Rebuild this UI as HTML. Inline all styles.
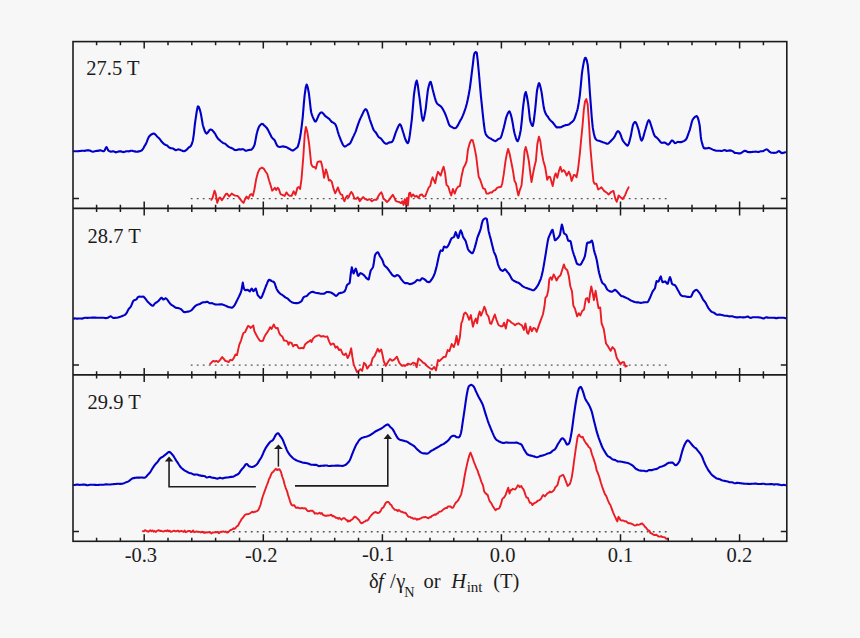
<!DOCTYPE html>
<html><head><meta charset="utf-8"><style>
html,body{margin:0;padding:0;background:#f7f7f7;}
body{width:860px;height:638px;overflow:hidden;}
svg{display:block;}
text{font-family:"Liberation Serif","DejaVu Serif",serif;font-size:20.5px;fill:#1c1c1c;}
</style></head><body>
<svg width="860" height="638" viewBox="0 0 860 638">
<rect width="860" height="638" fill="#f7f7f7"/>
<line x1="190.8" y1="198.6" x2="668" y2="198.6" stroke="#555" stroke-width="1.4" stroke-dasharray="1.8 4.2"/>
<line x1="190.8" y1="365.1" x2="668" y2="365.1" stroke="#555" stroke-width="1.4" stroke-dasharray="1.8 4.2"/>
<line x1="190.8" y1="531.8" x2="668" y2="531.8" stroke="#555" stroke-width="1.4" stroke-dasharray="1.8 4.2"/>
<path d="M73.8 151.2L74.8 151.3L75.8 151.3L76.8 151.2L77.8 151.2L78.8 151.1L79.8 151.0L80.0 151.0L80.8 150.9L81.8 150.7L82.8 150.7L83.8 150.8L84.8 150.9L85.8 150.6L86.0 150.5L86.8 150.4L87.8 150.3L88.8 150.4L89.8 150.5L90.8 151.0L91.8 151.4L92.0 151.5L92.8 151.7L93.8 151.5L94.8 151.2L95.8 151.0L96.8 150.9L97.8 150.9L98.0 150.9L98.8 150.6L99.8 150.4L100.8 150.4L101.8 150.8L102.8 151.1L103.8 151.2L104.0 151.2L104.8 150.2L105.8 147.9L106.4 147.1L106.8 147.4L107.8 149.7L108.5 150.7L108.8 150.9L109.8 151.3L110.8 151.7L111.8 151.5L112.8 151.4L113.8 151.4L114.8 151.9L115.0 152.0L115.8 152.4L116.8 152.1L117.8 151.7L118.8 151.4L119.8 151.4L120.8 151.4L121.8 151.6L122.0 151.7L122.8 151.9L123.8 152.1L124.8 151.8L125.8 151.4L126.8 151.2L127.8 151.3L128.8 151.4L129.8 151.1L130.0 151.1L130.8 150.8L131.8 150.7L132.8 150.9L133.8 151.2L134.8 151.4L135.8 151.6L136.0 151.7L136.8 151.8L137.8 151.6L138.8 151.4L139.8 151.2L140.8 150.8L141.5 150.5L141.8 150.4L142.8 149.2L143.8 147.5L144.8 145.6L145.3 144.9L145.8 144.1L146.8 141.8L147.8 139.1L148.8 137.0L149.0 136.7L149.8 135.8L150.8 134.9L151.8 134.2L152.8 133.8L153.5 133.6L153.8 133.6L154.8 133.9L155.8 134.9L156.8 136.1L157.8 137.2L158.8 138.0L159.8 139.1L160.8 140.5L161.8 141.8L162.8 142.9L163.8 143.8L164.8 144.5L165.8 145.0L166.6 145.2L166.8 145.3L167.8 146.1L168.8 147.2L169.1 147.4L169.8 147.8L170.8 148.2L171.8 148.3L172.8 148.5L173.8 149.0L174.8 149.6L175.4 150.1L175.8 150.3L176.8 149.9L177.8 149.5L178.8 149.4L179.8 149.7L180.0 149.7L180.8 150.1L181.8 150.5L182.8 151.0L183.8 151.2L184.2 151.1L184.8 151.0L185.8 150.4L186.8 149.6L187.8 148.5L188.8 147.3L189.2 147.2L189.8 146.9L190.8 145.9L191.8 144.0L192.8 140.8L192.9 140.4L193.8 134.3L194.8 125.0L195.4 120.4L195.8 117.8L196.8 111.0L197.8 106.5L198.0 106.3L198.8 106.8L199.8 109.6L200.5 112.2L200.8 113.4L201.8 119.1L202.8 124.7L203.0 125.5L203.8 128.2L204.8 131.1L205.8 133.0L206.7 133.6L206.8 133.6L207.8 132.6L208.8 131.1L209.8 129.7L210.5 129.5L210.8 129.5L211.8 129.9L212.8 130.8L213.8 132.0L214.3 132.6L214.8 133.3L215.8 135.0L216.8 136.9L217.8 138.4L218.0 138.7L218.8 139.4L219.8 140.3L220.8 141.2L221.8 142.0L222.8 142.8L223.0 142.9L223.8 143.2L224.8 143.5L225.8 144.3L226.8 145.2L227.8 146.1L228.0 146.3L228.8 146.8L229.8 147.4L230.8 147.9L231.8 148.1L232.8 148.6L233.8 149.4L234.8 150.0L235.6 150.0L235.8 150.1L236.8 150.0L237.8 149.6L238.8 149.4L239.8 149.3L240.6 149.5L240.8 149.6L241.8 149.2L242.8 149.1L243.8 149.5L244.8 150.3L245.6 150.7L245.8 150.8L246.8 150.6L247.8 150.3L248.8 150.0L249.8 149.9L250.8 149.8L251.1 149.8L251.8 149.4L252.8 148.2L253.8 146.4L254.4 145.2L254.8 143.9L255.8 138.6L256.8 133.3L256.9 133.0L257.8 129.9L258.8 127.2L259.4 126.1L259.8 125.6L260.8 124.5L261.8 123.8L262.2 123.9L262.8 124.1L263.8 125.1L264.8 126.0L265.7 126.8L265.8 126.9L266.8 127.9L267.8 129.6L268.8 131.5L269.8 133.5L270.7 135.3L270.8 135.5L271.8 137.4L272.8 138.5L273.8 139.4L274.5 140.0L274.8 140.5L275.8 142.8L276.8 145.1L277.8 146.4L278.2 146.6L278.8 146.8L279.8 147.0L280.8 146.8L281.8 146.6L282.0 146.5L282.8 146.4L283.8 146.6L284.8 146.8L285.0 146.9L285.8 146.9L286.8 147.3L287.8 148.0L288.8 148.5L289.8 149.0L290.8 149.7L291.3 150.0L291.8 150.2L292.8 150.6L293.8 150.0L294.8 149.3L295.8 148.5L296.8 147.7L297.5 147.0L297.8 146.6L298.8 143.4L299.8 138.7L300.0 137.7L300.8 132.9L301.8 125.3L302.6 118.4L302.8 116.4L303.8 104.1L304.6 95.6L304.8 94.1L305.8 87.0L306.6 84.6L306.8 84.7L307.8 87.7L308.8 92.7L309.8 100.8L310.8 110.0L311.3 112.8L311.8 114.4L312.8 117.1L313.8 119.3L314.8 121.2L315.1 121.5L315.8 121.5L316.8 119.7L317.6 117.8L317.8 117.4L318.8 115.0L319.8 113.5L320.8 112.5L321.4 112.5L321.8 112.4L322.8 113.1L323.8 114.2L324.8 115.6L325.1 115.9L325.8 116.4L326.8 117.2L327.8 117.9L328.8 118.6L329.8 119.6L330.2 120.1L330.8 120.8L331.8 122.0L332.8 122.4L333.8 123.0L334.8 123.8L335.2 124.2L335.8 125.2L336.8 127.9L337.8 131.6L338.8 134.8L338.9 135.1L339.8 137.4L340.8 140.0L341.8 142.3L342.8 144.5L343.8 146.0L344.5 146.5L344.8 146.6L345.8 146.2L346.8 145.5L347.8 144.8L348.8 144.3L349.8 143.6L350.2 143.1L350.8 142.1L351.8 140.0L352.8 137.6L353.8 135.6L354.8 133.4L355.2 132.6L355.8 131.1L356.8 128.2L357.8 125.2L358.8 122.3L359.8 119.7L360.3 118.6L360.8 117.6L361.8 115.5L362.8 113.4L363.8 111.3L364.8 109.7L365.8 109.1L366.8 110.2L367.8 112.8L368.8 116.1L369.8 119.5L370.3 120.9L370.8 122.4L371.8 125.2L372.8 128.0L373.8 130.2L374.1 130.6L374.8 131.4L375.8 132.4L376.8 134.1L377.8 135.8L378.8 137.2L379.1 137.4L379.8 137.8L380.8 138.4L381.8 139.6L382.8 141.0L383.8 142.2L384.8 143.1L385.4 143.5L385.8 143.7L386.8 143.7L387.8 143.2L388.8 142.6L389.8 142.4L390.8 142.2L391.6 142.1L391.8 142.0L392.8 140.8L393.8 138.4L394.8 135.4L395.8 132.3L396.6 130.3L396.8 129.9L397.8 127.5L398.8 125.4L399.8 124.3L399.9 124.2L400.8 125.2L401.8 127.9L402.8 131.2L402.9 131.5L403.8 134.3L404.8 137.6L405.8 140.3L406.8 142.4L407.8 143.2L407.9 143.2L408.8 141.0L409.8 135.2L410.8 127.6L411.7 120.4L411.8 119.6L412.8 108.4L413.8 96.4L414.2 93.0L414.8 88.9L415.8 82.9L416.7 80.6L416.8 80.7L417.8 85.2L418.8 92.8L419.2 95.6L419.8 99.9L420.8 108.5L421.8 116.4L422.8 120.6L423.0 120.7L423.8 119.0L424.8 114.1L425.5 110.0L425.8 108.1L426.8 99.1L427.8 90.7L428.0 89.6L428.8 86.0L429.8 82.6L430.5 81.8L430.8 82.1L431.8 85.5L432.8 90.0L433.0 90.7L433.8 93.7L434.8 97.5L435.8 100.9L436.8 103.1L437.8 104.2L438.8 105.0L439.8 105.6L440.8 106.3L441.8 107.5L442.8 109.1L443.8 110.9L444.8 113.0L445.6 114.8L445.8 115.3L446.8 118.0L447.8 121.0L448.8 123.9L449.8 125.8L450.6 126.5L450.8 126.5L451.8 126.9L452.8 127.6L453.8 128.1L454.8 128.2L455.6 128.0L455.8 127.9L456.8 126.9L457.8 125.4L458.8 123.5L459.8 121.5L460.6 120.0L460.8 119.7L461.8 117.9L462.8 115.6L463.8 113.1L464.8 110.3L465.6 108.0L465.8 107.3L466.8 103.7L467.8 99.3L468.8 94.3L469.4 90.9L469.8 88.5L470.8 81.0L471.8 72.8L472.7 65.7L472.8 64.9L473.8 56.1L474.3 53.7L474.8 52.9L475.5 52.1L475.8 52.0L476.8 52.9L477.8 61.4L478.1 64.7L478.8 72.0L479.8 83.5L480.8 94.8L481.3 99.8L481.8 104.6L482.8 114.3L483.8 123.5L484.8 130.7L485.7 134.1L485.8 134.3L486.8 135.7L487.8 136.8L488.8 137.6L489.8 138.1L490.7 138.5L490.8 138.6L491.8 139.3L492.8 139.9L493.8 140.5L494.8 140.9L495.7 141.1L495.8 141.0L496.8 140.3L497.8 139.4L498.8 138.8L499.8 138.5L500.0 138.4L500.8 137.6L501.8 134.8L502.8 131.2L503.8 127.6L504.8 123.4L505.8 118.9L506.3 117.2L506.8 115.8L507.8 113.3L508.8 111.7L509.3 111.4L509.8 111.8L510.8 114.5L511.8 118.6L512.0 119.5L512.8 123.7L513.8 130.1L514.6 133.6L514.8 134.2L515.8 137.6L516.8 140.4L517.6 141.3L517.8 141.2L518.8 138.8L519.8 134.7L520.6 130.8L520.8 129.7L521.8 120.9L522.8 109.7L523.3 105.2L523.8 101.3L524.8 94.5L525.8 92.0L526.8 95.7L527.8 101.5L528.1 103.3L528.8 109.2L529.8 118.5L530.1 120.1L530.8 122.6L531.8 125.1L532.6 126.0L532.8 125.9L533.8 121.0L534.8 112.7L535.1 110.2L535.8 103.1L536.8 92.3L537.1 90.3L537.8 86.7L538.8 83.4L539.1 83.2L539.8 84.4L540.8 88.5L541.4 91.4L541.8 93.6L542.8 100.9L543.8 107.6L543.9 108.0L544.8 111.5L545.8 113.9L546.8 115.5L547.7 116.4L547.8 116.6L548.8 118.3L549.8 119.6L550.8 120.7L551.4 121.2L551.8 121.6L552.8 122.5L553.8 123.8L554.8 125.2L555.2 125.8L555.8 126.4L556.8 127.4L557.7 127.4L557.8 127.3L558.8 127.3L559.8 127.4L560.8 127.3L561.5 126.9L561.8 126.8L562.8 126.2L563.8 125.8L564.8 125.5L565.2 125.3L565.8 125.1L566.8 125.0L567.8 124.9L568.8 124.5L569.0 124.4L569.8 123.8L570.8 122.9L571.8 122.2L572.8 121.3L573.8 120.1L574.0 119.7L574.8 117.9L575.8 114.9L576.8 111.8L577.3 110.1L577.8 108.0L578.8 102.4L579.8 95.6L580.8 85.7L581.8 74.7L582.3 70.7L582.8 67.7L583.8 62.1L584.8 58.3L585.3 57.7L585.8 57.9L586.8 60.5L587.8 65.3L588.8 76.3L589.8 91.5L590.1 95.5L590.8 104.7L591.8 118.0L592.8 127.9L593.8 133.2L594.8 137.2L595.8 139.3L596.6 140.0L596.8 140.1L597.8 140.5L598.8 140.8L599.8 141.1L600.8 141.4L601.6 141.7L601.8 141.8L602.8 142.2L603.8 142.5L604.8 142.9L605.8 143.3L606.8 143.7L607.8 143.7L607.9 143.6L608.8 143.1L609.8 142.0L610.8 141.1L611.8 140.0L612.8 139.0L612.9 138.9L613.8 137.9L614.8 136.2L615.8 134.1L616.8 132.2L617.8 131.1L617.9 131.1L618.8 131.5L619.8 132.9L620.8 135.2L621.8 138.1L622.8 140.5L622.9 140.7L623.8 141.9L624.8 143.1L625.8 144.2L626.8 145.3L627.4 145.7L627.8 145.6L628.8 143.6L629.8 140.0L630.5 137.3L630.8 136.1L631.8 130.6L632.8 125.6L633.0 124.9L633.8 123.1L634.8 122.0L635.5 122.1L635.8 122.5L636.8 124.5L637.8 127.4L638.0 127.9L638.8 130.7L639.8 135.3L640.8 139.3L641.7 140.6L641.8 140.6L642.8 138.8L643.8 135.3L644.8 131.5L645.5 129.2L645.8 128.3L646.8 124.7L647.8 121.5L648.8 120.1L649.8 121.4L650.8 124.5L651.8 127.6L652.8 130.7L653.8 134.0L654.8 136.1L655.0 136.4L655.8 137.0L656.8 137.6L657.8 138.7L658.8 139.9L659.3 140.6L659.8 141.1L660.8 142.4L661.8 142.9L662.8 142.8L663.8 142.6L664.8 142.6L665.0 142.6L665.8 143.1L666.8 143.9L667.8 144.5L668.1 144.6L668.8 144.3L669.8 143.3L670.8 141.6L671.8 140.5L671.9 140.4L672.8 140.7L673.8 141.8L674.8 143.1L675.8 143.0L676.0 142.9L676.8 142.4L677.8 141.9L678.8 142.0L679.8 142.1L680.6 142.1L680.8 142.1L681.8 141.9L682.8 141.6L683.8 141.1L684.8 140.5L685.6 139.9L685.8 139.8L686.8 138.1L687.8 135.3L688.8 132.5L689.4 130.9L689.8 129.8L690.8 126.1L691.8 122.0L692.7 119.6L692.8 119.5L693.8 118.1L694.8 117.0L695.8 116.4L696.4 116.0L696.8 116.0L697.8 117.6L698.8 121.1L699.5 124.5L699.8 126.5L700.8 136.7L701.2 139.4L701.8 142.0L702.8 145.6L703.8 148.0L704.5 148.4L704.8 148.4L705.8 148.4L706.8 148.2L707.8 148.1L708.8 147.9L709.5 148.1L709.8 148.2L710.8 148.6L711.8 149.1L712.8 149.6L713.8 150.0L714.8 150.4L715.0 150.4L715.8 150.6L716.8 150.8L717.8 150.7L718.8 150.7L719.8 150.7L720.8 150.9L721.8 151.0L722.8 150.6L723.8 150.2L724.8 150.1L725.2 150.2L725.8 150.5L726.8 151.0L727.8 150.8L728.8 150.6L729.8 150.4L730.8 150.6L731.8 150.8L732.0 150.8L732.8 151.3L733.8 152.1L734.8 152.9L735.8 153.0L736.8 153.0L737.8 153.2L738.8 153.4L739.8 153.4L740.8 153.2L741.8 152.6L742.8 151.8L743.8 151.2L744.8 150.8L745.0 150.8L745.8 151.0L746.8 151.5L747.8 152.0L748.8 152.1L749.8 152.1L750.8 152.1L751.8 152.0L752.8 151.9L753.8 151.8L754.8 151.7L755.0 151.7L755.8 151.6L756.8 151.8L757.8 152.0L758.8 151.9L759.8 151.6L760.8 151.2L761.8 151.3L762.0 151.3L762.8 151.2L763.8 150.7L764.8 150.1L765.8 149.6L766.6 149.4L766.8 149.4L767.8 149.9L768.8 150.9L769.8 151.9L770.0 152.1L770.8 152.4L771.8 152.7L772.8 152.8L773.8 152.9L774.8 152.8L775.8 152.8L776.8 152.4L777.8 151.7L778.8 151.0L779.8 151.6L780.8 152.5L781.8 153.1L782.8 152.9L783.8 152.7L784.8 152.4L785.4 152.3" fill="none" stroke="#0000c8" stroke-width="2.1" stroke-linejoin="round" stroke-linecap="round"/>
<path d="M73.8 318.6L74.8 318.4L75.8 318.5L76.8 318.6L77.8 318.6L78.8 318.5L79.8 318.5L80.8 318.5L81.8 318.6L82.8 318.4L83.8 318.1L84.8 317.7L85.0 317.7L85.8 317.8L86.8 317.9L87.8 317.9L88.8 317.8L89.8 317.8L90.8 317.7L91.8 317.6L92.8 317.6L93.8 317.6L94.8 317.6L95.1 317.6L95.8 317.6L96.8 317.7L97.8 317.7L98.8 317.8L99.8 317.8L100.8 317.8L101.8 317.7L102.8 317.7L103.8 317.8L104.8 318.0L105.8 318.1L106.8 318.0L107.0 318.0L107.8 317.8L108.8 317.2L109.8 316.6L110.0 316.6L110.8 316.3L111.8 317.0L112.8 317.7L113.8 318.0L114.8 317.9L115.8 317.8L116.7 317.7L116.8 317.7L117.8 317.5L118.8 317.2L119.8 316.9L120.8 316.6L121.6 316.3L121.8 316.2L122.8 315.8L123.8 315.4L124.8 314.9L125.8 314.1L126.8 312.7L127.8 310.6L128.3 309.7L128.8 308.9L129.8 307.8L130.8 306.6L131.8 304.4L132.8 301.8L133.3 301.0L133.8 300.4L134.8 300.0L135.8 299.7L136.8 298.9L137.8 297.3L138.3 296.9L138.8 296.7L139.8 296.5L140.8 296.7L141.8 296.7L142.8 296.6L143.3 296.6L143.8 296.8L144.8 298.0L145.3 298.6L145.8 299.2L146.8 300.6L147.8 301.8L147.9 301.9L148.8 302.8L149.8 303.7L150.8 304.6L151.8 305.4L152.8 305.7L153.3 305.5L153.8 305.0L154.8 303.5L155.8 302.7L156.8 302.2L157.8 301.5L158.6 300.7L158.8 300.5L159.8 299.3L160.8 298.1L161.6 297.7L161.8 297.8L162.8 299.1L163.2 299.5L163.8 299.4L164.8 298.7L165.7 298.3L165.8 298.3L166.8 299.0L167.8 300.4L168.2 300.9L168.8 301.8L169.8 303.2L170.8 304.4L171.6 305.0L171.8 305.1L172.8 305.6L173.8 306.3L174.8 307.1L174.9 307.2L175.8 307.8L176.8 307.9L177.8 308.0L178.2 308.0L178.8 308.2L179.8 308.6L180.8 309.0L181.5 309.6L181.8 309.9L182.8 311.0L183.8 312.0L184.8 312.1L184.9 312.1L185.8 311.9L186.8 311.7L187.8 311.6L188.2 311.6L188.8 311.5L189.8 311.1L190.8 310.6L191.5 310.2L191.8 309.9L192.8 308.8L193.8 307.5L194.8 306.5L194.9 306.4L195.8 305.7L196.8 305.0L197.8 304.6L198.2 304.5L198.8 304.4L199.8 304.0L200.8 303.4L201.5 302.9L201.8 302.7L202.8 302.4L203.8 302.3L204.0 302.3L204.8 302.3L205.8 302.1L206.8 301.8L207.3 301.8L207.8 302.0L208.8 302.7L209.8 303.3L210.8 303.2L211.8 303.1L212.8 303.4L213.2 303.6L213.8 303.9L214.8 304.4L215.8 304.5L216.5 304.5L216.8 304.5L217.8 304.5L218.8 304.5L219.8 304.4L220.8 304.4L221.8 304.4L222.8 304.5L223.1 304.7L223.8 304.9L224.8 305.4L225.8 305.8L226.5 306.1L226.8 306.3L227.8 306.8L228.8 307.1L229.0 307.2L229.8 307.3L230.8 307.5L231.5 307.7L231.8 307.7L232.8 307.2L233.8 306.2L234.0 306.0L234.8 304.8L235.8 302.9L236.5 301.5L236.8 300.9L237.8 298.9L238.8 296.9L239.0 296.5L239.8 294.8L240.8 292.5L241.4 290.7L241.8 288.4L242.8 282.6L243.8 288.2L243.9 288.5L244.8 289.8L245.6 290.2L245.8 290.2L246.8 289.9L247.8 289.7L248.8 290.7L249.8 291.4L250.8 289.7L251.7 288.6L251.8 288.6L252.8 290.5L253.3 291.1L253.8 291.0L254.8 289.6L255.8 288.6L256.8 292.0L257.5 294.6L257.8 295.1L258.8 296.4L259.8 297.5L260.8 298.1L261.8 296.9L262.8 294.3L263.3 293.0L263.8 291.8L264.8 289.2L265.8 286.5L266.6 284.5L266.8 284.1L267.8 281.6L268.8 279.9L269.1 279.8L269.8 280.0L270.8 280.5L271.6 281.0L271.8 281.1L272.8 281.5L273.8 282.0L274.1 282.3L274.8 283.5L275.8 286.7L276.6 288.9L276.8 289.3L277.8 291.0L278.8 292.3L279.8 293.3L280.0 293.5L280.8 294.1L281.8 294.7L282.8 295.3L283.3 295.7L283.8 296.1L284.8 297.0L285.8 297.6L286.6 298.0L286.8 298.1L287.8 298.7L288.8 299.7L289.8 300.7L289.9 300.8L290.8 301.5L291.8 302.2L292.8 302.6L293.3 302.8L293.8 302.9L294.8 303.0L295.8 303.1L296.8 303.1L297.4 303.1L297.8 303.1L298.8 302.8L299.8 302.3L300.8 301.7L301.6 301.0L301.8 300.8L302.8 298.6L303.6 297.2L303.8 297.1L304.8 296.6L305.8 296.3L306.6 296.0L306.8 295.9L307.8 294.9L308.8 293.8L309.1 293.5L309.8 293.0L310.8 292.3L311.8 292.0L312.4 291.9L312.8 291.9L313.8 292.1L314.8 292.5L315.8 292.8L316.6 293.0L316.8 293.0L317.8 293.1L318.8 293.2L319.8 293.5L320.7 293.7L320.8 293.7L321.8 293.8L322.8 293.8L323.8 293.8L324.8 293.3L324.9 293.2L325.8 292.6L326.8 292.0L327.8 292.0L328.8 292.1L329.8 292.2L329.9 292.2L330.8 292.4L331.8 293.0L332.8 293.6L333.2 293.8L333.8 294.2L334.8 295.1L335.8 295.8L336.2 295.9L336.8 295.6L337.8 294.5L338.8 293.4L339.0 293.3L339.8 293.1L340.8 292.9L341.8 292.8L342.3 292.6L342.8 292.4L343.8 291.9L344.8 291.1L345.8 288.8L346.8 285.5L347.3 284.7L347.8 284.3L348.8 283.7L349.5 283.1L349.8 282.1L350.8 273.3L351.8 267.2L352.8 271.2L353.5 273.5L353.8 273.2L354.8 270.4L355.7 268.6L355.8 268.7L356.8 271.6L357.8 275.4L358.2 275.8L358.8 275.4L359.8 273.8L360.6 273.1L360.8 273.2L361.8 273.6L362.8 274.3L363.8 275.1L364.0 275.2L364.8 276.1L365.8 277.5L366.5 278.2L366.8 278.4L367.8 279.3L368.5 279.5L368.8 279.2L369.8 274.4L370.6 270.9L370.8 270.4L371.8 269.0L372.8 267.5L373.1 266.8L373.8 263.0L374.8 256.1L375.1 255.1L375.8 253.8L376.8 252.6L377.8 252.2L378.8 253.7L379.8 256.0L380.8 257.5L381.8 259.0L382.3 259.9L382.8 261.1L383.8 264.1L384.4 265.4L384.8 265.9L385.8 266.7L386.8 267.6L387.3 268.1L387.8 268.8L388.8 270.2L389.8 271.6L390.6 272.6L390.8 272.9L391.8 274.4L392.5 275.2L392.8 275.4L393.8 276.1L394.8 276.4L395.0 276.4L395.8 275.9L396.8 275.0L397.0 275.0L397.8 275.2L398.8 275.8L399.2 276.2L399.8 276.9L400.8 278.6L401.6 279.7L401.8 279.9L402.8 281.1L403.8 282.2L404.8 283.0L405.0 283.1L405.8 283.1L406.8 283.0L407.8 283.2L408.3 283.5L408.8 283.7L409.8 284.1L410.8 283.9L411.6 283.7L411.8 283.7L412.8 283.3L413.8 282.8L414.6 282.4L414.8 282.3L415.8 281.3L416.8 280.2L417.5 279.9L417.8 280.0L418.8 280.2L419.8 280.5L420.0 280.5L420.8 279.7L421.8 278.4L421.9 278.4L422.8 278.4L423.8 278.9L424.8 279.5L424.9 279.6L425.8 280.4L426.8 281.5L427.4 281.8L427.8 281.9L428.8 282.1L429.1 282.1L429.8 281.8L430.8 280.6L431.6 279.4L431.8 279.2L432.8 277.6L433.8 275.7L434.1 275.0L434.8 273.1L435.8 269.6L436.6 266.6L436.8 265.8L437.8 261.0L438.8 256.3L439.1 255.1L439.8 252.4L440.7 250.4L440.8 250.4L441.8 250.8L442.4 251.0L442.8 250.4L443.8 247.0L444.1 246.6L444.8 246.8L445.8 247.4L446.6 247.5L446.8 247.4L447.8 246.3L448.8 244.4L449.1 243.8L449.8 242.3L450.8 239.7L451.6 238.3L451.8 238.1L452.8 237.6L453.8 237.1L454.1 236.8L454.8 234.7L455.7 232.2L455.8 232.3L456.8 234.8L457.8 237.7L458.2 238.0L458.8 236.8L459.8 232.6L460.7 230.4L460.8 230.4L461.8 232.6L462.8 236.0L463.2 237.1L463.8 238.1L464.8 239.6L465.7 241.2L465.8 241.5L466.8 245.0L467.8 248.6L468.2 249.5L468.8 250.5L469.8 251.6L469.9 251.7L470.8 252.4L471.8 253.1L472.4 253.2L472.8 252.9L473.8 250.6L474.8 247.5L474.9 247.1L475.8 243.9L476.8 239.9L477.4 237.6L477.8 236.5L478.8 234.0L479.8 231.5L480.7 228.8L480.8 228.5L481.8 223.7L482.8 220.4L483.8 219.3L484.8 218.5L485.8 218.4L486.8 218.9L487.8 225.0L488.5 230.4L488.8 231.8L489.8 235.7L490.7 238.9L490.8 239.3L491.8 243.4L492.3 245.4L492.8 247.4L493.8 251.5L494.0 252.1L494.8 253.8L495.7 255.7L495.8 256.0L496.8 259.6L497.8 263.6L498.2 264.8L498.8 266.4L499.8 268.7L500.6 269.8L500.8 269.9L501.8 270.6L502.8 270.9L503.8 270.2L504.8 269.2L505.8 269.9L506.8 271.2L507.3 271.9L507.8 272.4L508.8 273.6L509.8 275.1L510.8 277.1L511.8 278.9L512.3 279.6L512.8 280.0L513.8 280.7L514.8 281.2L515.6 281.6L515.8 281.7L516.8 282.2L517.8 282.5L518.8 283.0L519.0 283.1L519.8 283.7L520.8 284.6L521.8 285.6L522.8 286.3L523.1 286.5L523.8 286.9L524.8 287.4L525.8 287.8L526.8 288.1L527.3 288.3L527.8 288.5L528.8 288.9L529.8 289.1L530.0 289.2L530.8 289.4L531.8 289.9L532.8 290.2L533.3 290.3L533.8 290.2L534.8 289.4L535.8 288.3L536.8 286.9L537.5 285.9L537.8 285.4L538.8 283.5L539.8 281.2L540.8 278.8L541.8 275.3L542.8 270.7L543.3 268.1L543.8 265.4L544.8 259.3L545.8 253.3L546.8 246.9L547.8 240.9L548.3 238.7L548.8 237.2L549.8 234.9L550.3 233.8L550.8 232.7L551.8 230.4L552.5 229.8L552.8 230.3L553.8 235.3L554.8 240.0L555.0 240.2L555.8 239.9L556.8 239.0L557.5 238.3L557.8 238.0L558.8 236.8L559.8 235.1L560.0 234.7L560.8 230.1L561.8 224.6L561.9 224.6L562.8 227.6L563.8 232.7L564.1 233.4L564.8 233.9L565.8 234.4L566.3 234.9L566.8 236.1L567.8 239.8L568.3 240.7L568.8 240.9L569.8 240.9L570.3 241.0L570.8 242.0L571.8 247.0L572.4 249.8L572.8 251.3L573.8 254.5L574.8 257.3L574.9 257.5L575.8 260.4L576.8 263.4L577.4 264.2L577.8 264.3L578.8 264.6L579.8 264.7L580.2 264.7L580.8 264.4L581.8 262.7L582.4 261.5L582.8 260.8L583.8 258.9L584.8 256.4L584.9 256.1L585.8 251.1L586.8 244.4L587.4 242.7L587.8 242.6L588.8 242.6L589.8 242.4L589.9 242.4L590.8 241.5L591.8 240.6L591.9 240.6L592.8 243.4L593.8 249.2L594.1 250.6L594.8 253.1L595.8 256.3L596.6 259.4L596.8 260.3L597.8 266.0L598.8 271.6L599.0 272.5L599.8 275.4L600.8 279.0L601.8 281.8L602.4 282.9L602.8 283.3L603.8 284.1L604.8 284.8L604.9 285.0L605.8 286.7L606.8 288.9L607.4 289.7L607.8 290.0L608.8 290.7L609.8 291.3L610.8 291.6L611.5 291.7L611.8 291.7L612.8 291.3L613.8 290.5L614.8 289.9L614.9 289.8L615.8 290.2L616.8 291.2L617.8 292.4L618.2 292.7L618.8 293.3L619.8 294.5L620.8 295.6L621.5 296.1L621.8 296.2L622.8 296.3L623.8 296.7L624.8 297.2L625.7 297.6L625.8 297.6L626.8 298.1L627.8 298.5L628.8 299.2L629.8 299.8L630.8 300.5L631.8 300.9L632.8 301.3L633.8 301.7L634.0 301.7L634.8 302.0L635.8 302.3L636.8 302.4L637.8 302.4L638.8 302.4L639.0 302.5L639.8 302.8L640.8 302.9L641.8 302.7L642.8 302.5L643.1 302.4L643.8 302.4L644.8 302.3L645.8 302.2L646.8 302.2L647.5 302.1L647.8 302.0L648.8 300.3L649.8 298.1L650.0 297.7L650.8 295.9L651.8 293.4L652.5 291.8L652.8 291.2L653.8 289.9L654.8 288.5L655.0 288.2L655.8 284.2L656.6 281.0L656.8 281.1L657.8 281.6L658.3 281.7L658.8 281.1L659.8 278.3L660.8 276.4L661.8 280.0L662.5 282.2L662.8 282.2L663.8 281.8L664.8 281.5L665.0 281.4L665.8 282.0L666.8 283.3L667.5 283.8L667.8 283.6L668.8 280.3L669.8 277.3L670.0 277.2L670.8 279.2L671.8 283.3L672.0 283.7L672.8 284.4L673.8 284.7L674.8 285.1L675.0 285.2L675.8 286.3L676.8 288.0L677.8 289.9L678.3 290.8L678.8 291.7L679.8 293.6L680.8 295.1L681.6 295.7L681.8 295.8L682.8 296.1L683.8 296.2L684.8 296.3L684.9 296.3L685.8 296.5L686.8 296.7L687.8 296.9L688.3 296.9L688.8 297.0L689.8 297.0L690.8 296.8L691.8 295.3L692.8 292.9L693.3 292.1L693.8 291.6L694.8 290.6L695.8 290.0L696.6 289.9L696.8 290.0L697.8 290.8L698.8 292.1L699.8 293.3L699.9 293.5L700.8 295.0L701.8 297.0L702.8 299.0L703.2 299.7L703.8 300.5L704.8 301.7L705.7 302.9L705.8 303.1L706.8 305.1L707.8 307.1L708.2 307.8L708.8 308.6L709.8 309.9L710.8 311.1L711.6 311.8L711.8 311.9L712.8 312.3L713.8 312.6L714.8 313.3L714.9 313.4L715.8 314.1L716.8 314.7L717.8 314.7L718.2 314.7L718.8 314.6L719.8 314.6L720.8 314.8L721.8 315.0L722.8 315.2L723.2 315.3L723.8 315.5L724.8 315.7L725.8 315.7L726.8 315.7L727.8 316.0L728.2 316.1L728.8 316.2L729.8 316.4L730.8 316.3L731.8 316.2L732.8 316.4L733.8 316.8L734.8 317.1L734.9 317.1L735.8 317.3L736.8 317.4L737.8 317.4L738.8 317.2L739.8 317.1L740.8 317.2L741.8 317.3L742.8 317.4L743.8 317.4L744.8 317.3L745.8 317.1L746.8 316.8L747.8 316.5L748.8 317.1L749.8 317.7L750.8 317.9L751.8 317.6L752.8 317.2L753.8 317.2L754.8 317.2L755.8 317.2L756.8 317.2L757.8 317.3L758.8 317.4L759.8 317.5L760.8 317.6L761.8 318.0L762.8 318.4L763.8 318.5L764.8 317.9L765.8 317.4L766.8 317.4L767.8 317.6L768.8 317.8L769.8 317.8L770.8 317.8L771.8 317.8L772.8 317.8L773.8 317.8L774.8 317.9L775.8 318.1L776.8 318.1L777.8 317.9L778.8 317.8L779.8 317.7L780.8 317.7L781.8 317.7L782.8 317.8L783.8 317.8L784.8 318.0L785.4 318.2" fill="none" stroke="#0000c8" stroke-width="2.1" stroke-linejoin="round" stroke-linecap="round"/>
<path d="M73.8 485.0L74.8 485.0L75.8 484.7L76.8 484.5L77.8 484.6L78.8 484.8L79.8 485.0L80.8 484.8L81.8 484.7L82.8 484.6L83.8 484.6L84.8 484.6L85.8 484.9L86.8 485.1L87.8 485.2L88.8 485.0L89.8 484.8L90.8 484.7L91.8 484.7L92.8 484.7L93.8 484.8L94.8 484.9L95.0 484.9L95.8 484.9L96.8 485.0L97.8 485.0L98.8 484.9L99.8 484.8L100.8 484.7L101.8 484.8L102.8 484.8L103.8 484.7L104.8 484.5L105.8 484.4L106.8 484.4L107.8 484.5L108.8 484.5L109.8 484.5L110.0 484.5L110.8 484.5L111.8 484.3L112.8 484.2L113.8 484.1L114.8 484.0L115.8 484.0L116.8 483.9L117.8 483.8L118.8 483.8L119.8 483.9L120.5 483.9L120.8 483.9L121.8 483.8L122.8 483.6L123.8 483.3L124.8 482.9L125.8 482.4L126.8 482.0L127.8 481.6L127.9 481.6L128.8 481.1L129.8 480.4L130.8 479.5L131.8 478.7L132.8 478.3L133.7 478.1L133.8 478.1L134.8 477.9L135.8 477.8L136.8 477.6L137.8 477.6L138.7 477.6L138.8 477.6L139.8 477.6L140.8 477.5L141.8 477.5L142.8 477.6L143.8 477.7L144.5 477.8L144.8 477.7L145.8 477.1L146.8 476.0L147.8 474.9L148.8 473.8L149.5 473.1L149.8 472.8L150.8 471.2L151.8 469.5L152.8 467.8L153.8 466.3L154.5 465.3L154.8 464.9L155.8 463.8L156.8 462.7L157.8 461.6L158.7 460.2L158.8 460.1L159.8 458.7L160.8 457.8L161.8 457.2L162.8 456.8L163.7 456.0L163.8 455.9L164.8 455.1L165.8 454.4L166.5 453.8L166.8 453.6L167.8 452.6L168.8 452.0L169.2 451.9L169.8 452.1L170.8 452.9L171.8 454.0L172.8 455.2L173.8 456.5L174.8 458.2L175.8 459.9L176.8 461.5L177.0 461.7L177.8 462.9L178.8 464.5L179.8 466.0L180.8 467.3L181.2 467.7L181.8 468.3L182.8 469.1L183.8 469.9L184.8 470.6L185.8 471.1L186.8 471.7L187.8 472.3L188.8 472.8L189.8 473.1L190.8 473.3L191.8 473.6L192.8 474.1L193.8 474.6L194.8 474.6L195.8 474.5L196.1 474.5L196.8 474.5L197.8 474.8L198.8 475.2L199.8 475.4L200.8 475.6L201.8 475.9L202.8 475.9L203.8 476.0L204.8 476.2L205.8 476.9L206.1 477.1L206.8 477.5L207.8 477.3L208.8 477.0L209.8 476.8L210.8 477.2L211.8 477.6L212.8 477.8L213.8 477.9L214.8 478.0L215.8 478.3L216.1 478.4L216.8 478.6L217.8 478.6L218.8 478.2L219.8 477.8L220.1 477.7L220.8 478.0L221.8 478.3L222.8 478.4L223.8 478.1L224.8 477.8L225.8 477.6L226.8 477.5L227.0 477.5L227.8 477.5L228.8 477.3L229.8 477.1L230.8 476.9L231.8 476.9L232.8 476.8L233.1 476.8L233.8 476.4L234.8 475.9L235.8 475.2L236.8 474.8L237.8 474.3L238.0 474.2L238.8 473.5L239.8 472.2L240.8 470.7L241.8 469.3L242.8 468.3L242.9 468.2L243.8 467.1L244.8 465.6L245.8 464.2L246.8 464.1L247.0 464.1L247.8 464.8L248.8 466.1L249.4 466.4L249.8 466.5L250.8 466.8L251.8 467.0L252.7 466.9L252.8 466.9L253.8 466.5L254.8 466.0L255.8 465.2L256.7 464.5L256.8 464.4L257.8 463.1L258.8 461.4L259.8 459.8L260.8 458.2L261.8 456.4L262.8 454.2L263.8 451.8L264.8 449.7L265.7 448.1L265.8 447.9L266.8 446.3L267.8 444.8L268.8 443.5L269.8 442.3L270.6 441.5L270.8 441.4L271.8 440.8L272.8 440.1L273.0 439.9L273.8 438.7L274.8 436.6L275.7 435.1L275.8 434.9L276.8 433.8L277.8 433.2L278.2 433.3L278.8 433.8L279.8 435.5L280.7 436.6L280.8 436.7L281.8 438.1L282.8 439.9L283.2 440.8L283.8 442.3L284.8 445.0L285.0 445.4L285.8 447.5L286.8 449.9L287.5 451.4L287.8 451.9L288.8 453.4L289.8 454.8L290.8 456.0L291.3 456.5L291.8 457.0L292.8 458.0L293.8 458.8L294.8 459.4L295.8 460.0L296.3 460.2L296.8 460.5L297.8 460.9L298.8 461.2L299.8 461.6L300.8 461.9L301.8 462.3L302.6 462.5L302.8 462.6L303.8 462.8L304.8 462.9L305.8 463.0L306.8 463.2L307.8 463.4L308.8 463.7L309.8 464.2L310.1 464.3L310.8 464.7L311.8 464.8L312.8 464.8L313.8 464.9L314.8 464.9L315.8 464.8L316.8 465.1L317.6 465.5L317.8 465.6L318.8 466.1L319.8 466.0L320.8 465.9L321.8 465.8L322.8 465.7L323.8 465.6L324.8 465.6L325.1 465.5L325.8 465.5L326.8 465.5L327.8 465.8L328.8 466.0L329.8 466.0L330.8 465.9L331.8 465.7L332.7 465.7L332.8 465.7L333.8 465.7L334.8 465.7L335.8 465.6L336.8 465.5L337.8 465.6L338.8 465.6L339.8 465.7L340.2 465.8L340.8 465.8L341.8 466.0L342.8 465.9L343.8 465.6L344.8 465.2L345.2 465.1L345.8 464.8L346.8 463.9L347.8 462.8L348.8 461.7L349.0 461.5L349.8 460.2L350.8 457.9L351.8 455.1L352.7 452.8L352.8 452.6L353.8 450.2L354.8 447.8L355.8 445.6L356.5 444.3L356.8 443.8L357.8 442.3L358.8 440.7L359.8 439.5L360.3 439.0L360.8 438.6L361.8 438.0L362.8 437.6L363.8 437.2L364.0 437.2L364.8 437.0L365.8 436.8L366.8 436.5L367.8 436.1L368.8 435.7L369.8 435.2L370.8 434.7L371.6 434.2L371.8 434.0L372.8 433.4L373.8 432.7L374.8 431.9L375.3 431.5L375.8 431.2L376.8 430.7L377.8 430.2L378.8 429.8L379.1 429.6L379.8 429.3L380.8 428.8L381.8 428.2L382.8 427.5L383.8 426.7L384.8 425.9L385.4 425.5L385.8 425.2L386.8 424.7L387.8 424.4L388.8 425.1L389.8 426.4L390.4 427.1L390.8 427.5L391.8 428.3L392.8 429.4L393.8 431.1L394.8 433.0L395.3 433.9L395.8 434.8L396.8 436.7L397.8 438.2L398.8 439.1L399.8 439.7L400.8 440.0L401.8 440.3L402.8 440.6L402.9 440.6L403.8 440.8L404.8 441.1L405.8 441.3L406.8 441.6L407.8 442.1L407.9 442.2L408.8 442.8L409.8 443.5L410.8 444.1L411.8 444.7L412.8 445.3L413.0 445.4L413.8 445.9L414.8 446.8L415.8 447.9L416.7 448.8L416.8 448.9L417.8 449.9L418.8 450.7L419.8 451.6L420.8 452.3L421.7 452.8L421.8 452.9L422.8 453.3L423.8 453.4L424.8 453.4L425.8 453.5L426.0 453.6L426.8 453.6L427.8 453.5L428.8 452.8L429.8 452.0L430.8 451.1L431.8 450.5L432.7 450.1L432.8 450.1L433.8 449.5L434.8 448.9L435.8 448.3L436.8 447.8L437.8 447.2L438.8 446.6L439.3 446.3L439.8 446.0L440.8 445.3L441.8 444.8L442.8 444.4L443.8 443.8L444.3 443.5L444.8 443.2L445.8 442.4L446.8 441.6L447.8 440.7L448.5 440.1L448.8 439.8L449.8 438.4L450.8 437.0L451.8 436.2L452.8 435.9L453.8 435.7L454.3 435.7L454.8 435.9L455.8 436.7L456.8 437.2L457.8 437.3L458.8 437.4L458.9 437.4L459.8 436.3L460.8 433.6L461.0 433.0L461.8 428.5L462.6 422.8L462.8 421.5L463.8 414.9L464.6 409.5L464.8 408.1L465.8 400.8L466.8 394.5L467.8 389.4L468.8 386.3L468.9 386.1L469.8 385.5L470.8 385.0L471.3 384.9L471.8 385.0L472.8 385.7L473.4 386.3L473.8 386.7L474.8 388.6L475.8 391.0L475.9 391.2L476.8 393.1L477.8 395.2L478.8 397.2L479.2 397.9L479.8 399.0L480.8 400.8L481.8 402.7L482.6 404.4L482.8 404.9L483.8 408.0L484.8 411.4L485.8 414.6L485.9 414.9L486.8 417.7L487.8 420.8L488.8 423.6L489.2 424.6L489.8 426.1L490.8 428.6L491.8 431.0L492.6 432.9L492.8 433.3L493.8 435.6L494.8 437.7L495.8 439.2L495.9 439.3L496.8 440.1L497.8 440.7L498.8 441.3L499.2 441.5L499.8 441.7L500.8 442.2L501.8 442.6L502.8 442.9L503.8 443.0L504.2 442.9L504.8 442.7L505.8 442.4L506.8 442.5L507.8 442.6L508.8 442.8L509.8 442.8L510.8 442.8L510.9 442.8L511.8 442.8L512.8 442.8L513.8 442.8L514.8 442.7L515.8 442.5L516.7 442.6L516.8 442.6L517.8 442.9L518.8 443.4L519.8 443.7L520.8 444.1L521.8 445.0L522.8 446.9L523.8 449.0L524.2 449.7L524.8 450.6L525.8 452.3L526.8 453.7L527.5 454.4L527.8 454.5L528.8 455.0L529.8 455.4L530.8 455.6L531.8 455.8L532.5 456.0L532.8 456.1L533.8 456.4L534.8 456.6L535.8 457.0L536.6 457.2L536.8 457.2L537.8 457.0L538.8 456.6L539.8 456.1L540.8 455.9L541.8 455.7L542.5 455.5L542.8 455.5L543.8 455.1L544.8 454.8L545.8 454.4L546.8 453.9L547.8 453.5L548.8 453.3L549.1 453.3L549.8 453.1L550.8 452.5L551.8 451.6L552.8 450.6L553.8 450.1L554.8 449.4L555.0 449.2L555.8 448.2L556.8 446.3L557.8 444.3L558.8 442.7L559.1 442.3L559.8 441.2L560.8 439.6L561.8 438.6L562.8 438.3L563.8 439.2L564.8 440.5L564.9 440.6L565.8 442.5L566.8 444.5L567.1 444.6L567.8 444.4L568.8 443.6L569.0 443.4L569.8 441.4L570.8 436.5L571.5 432.6L571.8 430.8L572.8 423.6L573.8 415.9L574.0 414.6L574.8 409.1L575.8 402.5L576.5 398.6L576.8 397.1L577.8 392.3L578.8 388.9L579.0 388.5L579.8 387.5L580.8 386.9L581.8 388.3L582.8 391.2L583.3 392.7L583.8 394.2L584.8 397.6L585.3 398.9L585.8 399.9L586.8 401.5L587.8 403.0L588.8 404.6L589.1 405.2L589.8 406.6L590.8 409.0L591.6 411.2L591.8 411.8L592.8 415.8L593.8 420.1L594.1 421.3L594.8 424.0L595.8 428.0L596.8 431.9L597.8 435.2L598.8 438.1L599.8 440.8L600.8 443.5L601.6 445.5L601.8 446.0L602.8 448.2L603.8 450.0L604.8 451.6L605.4 452.7L605.8 453.4L606.8 454.9L607.8 456.1L608.8 456.7L609.8 457.1L610.4 457.6L610.8 458.0L611.8 458.8L612.8 459.5L613.8 459.8L614.8 459.9L615.4 460.1L615.8 460.4L616.8 460.9L617.8 461.5L618.8 461.5L619.8 461.5L620.4 461.5L620.8 461.6L621.8 461.8L622.8 462.0L623.8 462.2L624.8 462.4L625.4 462.5L625.8 462.6L626.8 462.8L627.8 463.0L628.8 463.4L629.8 463.9L630.5 464.2L630.8 464.4L631.8 465.0L632.8 465.7L633.8 466.6L634.8 467.7L635.5 468.5L635.8 468.8L636.8 469.3L637.8 469.8L638.8 470.2L639.8 470.5L640.5 470.6L640.8 470.6L641.8 470.7L642.8 470.7L643.8 470.8L644.8 471.0L645.5 471.2L645.8 471.3L646.8 471.2L647.8 470.7L648.8 470.1L649.8 470.1L650.5 470.1L650.8 470.1L651.8 470.1L652.8 469.9L653.8 469.5L654.8 469.3L655.8 469.1L656.8 468.9L657.8 468.3L658.1 468.1L658.8 467.7L659.8 467.1L660.8 466.8L661.8 466.5L662.8 466.1L663.8 465.7L664.3 465.5L664.8 465.3L665.8 464.6L666.8 463.9L667.8 463.2L668.8 462.8L669.3 462.8L669.8 462.8L670.8 462.6L671.8 462.5L672.6 462.6L672.8 462.7L673.8 463.7L674.8 464.9L675.6 465.3L675.8 465.3L676.8 464.8L677.8 463.8L678.8 462.2L679.4 461.2L679.8 460.3L680.8 456.6L681.8 452.7L681.9 452.4L682.8 449.4L683.8 446.5L684.8 444.3L684.9 444.1L685.8 442.5L686.8 440.9L687.7 440.3L687.8 440.3L688.8 440.9L689.8 442.1L690.7 443.2L690.8 443.3L691.8 444.5L692.8 445.8L693.8 446.8L694.4 447.3L694.8 447.6L695.8 448.2L696.8 449.3L697.6 450.3L697.8 450.6L698.8 451.8L699.8 453.1L700.8 454.5L701.3 455.3L701.8 456.2L702.8 458.5L703.8 461.1L704.8 463.5L705.1 464.2L705.8 465.6L706.8 467.5L707.8 469.3L708.8 470.8L708.9 471.0L709.8 472.2L710.8 473.6L711.8 474.7L712.6 475.5L712.8 475.6L713.8 476.4L714.8 477.2L715.8 477.9L716.8 478.5L717.7 478.7L717.8 478.7L718.8 478.9L719.8 479.2L720.8 479.8L721.8 480.2L722.8 480.5L723.8 480.7L724.8 480.9L725.2 481.0L725.8 481.1L726.8 481.2L727.8 481.6L728.8 481.9L729.8 482.2L730.8 482.2L731.8 482.2L732.8 482.5L733.8 482.9L734.8 483.2L735.2 483.2L735.8 483.1L736.8 482.9L737.8 482.9L738.8 483.0L739.8 483.1L740.8 483.2L741.8 483.4L742.8 483.5L743.8 483.6L744.8 483.7L745.8 483.8L746.8 483.8L747.8 483.9L748.8 483.9L749.8 484.0L750.3 484.0L750.8 483.9L751.8 483.8L752.8 483.7L753.8 483.7L754.8 483.6L755.8 483.6L756.8 483.8L757.8 484.0L758.8 484.0L759.8 484.0L760.8 484.0L761.8 483.9L762.8 483.8L763.8 483.8L764.8 484.0L765.8 484.3L766.8 484.3L767.8 484.2L768.0 484.2L768.8 484.2L769.8 484.1L770.8 484.0L771.8 484.1L772.8 484.3L773.8 484.6L774.8 484.4L775.8 484.3L776.8 484.3L777.8 484.4L778.8 484.6L779.8 484.8L780.8 485.0L781.8 485.2L782.8 485.0L783.8 484.9L784.8 485.0L785.4 485.2" fill="none" stroke="#0000c8" stroke-width="2.1" stroke-linejoin="round" stroke-linecap="round"/>
<path d="M211.4 199.8L212.6 197.7L214.5 190.7L215.7 193.6L217.2 202.9L218.7 198.6L219.9 197.4L221.9 200.2L223.6 197.7L225.9 194.0L227.1 193.6L229.2 196.5L231.7 193.6L233.5 194.8L235.2 195.6L237.6 195.9L239.9 198.6L242.2 201.7L243.6 202.9L245.1 198.8L246.6 196.5L248.3 198.8L249.8 195.3L251.3 194.0L252.9 195.9L254.4 189.5L256.2 179.1L257.9 172.7L259.7 168.8L262.0 167.7L263.7 168.6L265.5 171.5L267.2 173.8L269.0 180.2L270.7 185.5L272.2 190.7L273.6 189.3L274.8 187.8L276.2 190.1L277.7 187.8L278.8 189.0L280.6 194.2L282.3 194.8L284.7 195.9L286.4 192.4L288.1 194.8L289.9 195.9L291.6 195.9L293.6 191.3L295.5 194.8L297.4 187.8L298.6 187.0L300.1 189.0L301.5 179.1L303.3 157.0L304.8 133.8L305.9 127.0L307.2 131.2L309.2 144.4L311.2 164.1L312.7 166.7L314.4 167.0L315.8 168.7L317.5 162.1L319.1 161.5L321.0 161.5L322.3 166.7L324.1 177.9L325.9 169.4L327.2 173.3L328.9 180.6L330.0 179.9L331.7 181.6L333.5 188.6L335.2 193.3L336.4 190.9L337.9 187.4L339.3 191.5L340.7 194.4L342.2 194.7L343.4 199.1L344.5 201.2L345.7 197.9L347.2 195.8L348.6 197.3L349.8 194.4L351.2 191.9L352.7 193.8L354.4 198.5L356.2 198.8L357.9 197.3L359.7 201.2L361.4 199.1L363.1 197.0L364.9 198.8L367.2 200.0L369.5 199.1L371.9 201.2L374.2 199.7L376.5 199.7L378.3 196.2L379.8 193.8L381.2 192.3L382.3 194.4L383.5 198.8L385.2 200.0L387.0 202.0L388.7 200.5L390.5 197.9L392.8 194.7L394.5 197.9L395.7 200.8L397.4 201.6L399.2 202.0L400.9 203.1L402.3 201.2L403.5 204.9L404.7 199.1L405.8 204.3L407.0 197.9L407.9 205.5L409.1 193.3L410.2 192.7L411.4 196.7L413.1 194.4L414.9 196.7L416.6 195.8L418.4 197.9L420.1 195.0L421.9 194.4L423.6 196.7L425.3 196.2L427.1 191.5L428.8 187.4L430.2 186.1L431.4 180.8L432.6 177.3L434.1 180.8L435.2 183.2L436.6 176.2L438.0 171.8L439.5 173.9L440.7 175.6L442.2 170.4L443.6 166.7L445.0 172.7L446.5 184.9L448.3 186.7L449.7 191.3L451.2 195.4L452.9 189.0L454.7 193.6L456.4 189.0L458.1 186.7L459.9 186.1L461.6 176.2L463.4 168.0L465.1 165.1L466.6 161.1L468.0 149.4L469.8 143.0L471.3 139.9L472.7 140.1L474.4 147.1L476.2 156.4L477.6 168.0L478.7 176.8L480.2 179.7L481.7 184.3L483.1 188.4L484.9 189.0L486.6 193.6L488.4 193.6L490.1 192.5L491.9 192.5L493.6 190.7L495.3 190.1L497.1 187.8L498.8 187.2L501.2 186.7L502.3 183.2L503.8 173.9L505.5 161.1L507.0 152.9L508.1 148.9L509.7 154.1L511.3 162.2L513.1 171.5L514.5 180.8L515.9 183.2L517.4 191.3L518.4 195.4L519.8 190.1L521.5 185.5L523.3 167.5L524.6 150.9L525.7 147.0L527.1 152.0L528.8 160.7L530.1 171.7L531.5 182.1L533.0 173.9L534.3 167.3L535.9 160.7L537.3 144.3L538.9 136.6L540.3 141.0L541.7 152.0L543.3 160.7L545.2 167.3L547.2 179.9L548.8 176.7L550.2 177.2L552.7 186.0L554.6 176.1L555.7 173.4L557.3 177.7L559.0 170.6L560.4 166.8L561.9 171.7L563.7 170.1L565.0 171.7L566.7 175.6L568.8 171.7L570.3 175.0L571.6 181.0L573.8 175.0L574.9 175.0L576.5 177.2L578.0 169.5L579.8 154.1L581.3 138.0L582.5 126.0L583.8 110.0L585.0 101.5L586.3 99.1L587.7 104.5L589.2 126.4L590.3 146.5L591.9 165.1L593.5 181.6L594.6 183.8L596.4 183.8L598.2 189.5L599.3 188.8L600.3 188.2L601.4 187.3L604.1 190.9L606.8 192.7L608.6 194.5L611.4 191.8L613.5 190.9L615.4 199.1L616.8 201.8L618.6 195.5L620.5 197.3L622.6 199.1L625.0 195.5L626.8 190.9L628.6 187.3" fill="none" stroke="#ec1c24" stroke-width="1.9" stroke-linejoin="round" stroke-linecap="round"/>
<path d="M210.2 363.8L213.1 360.9L214.9 361.5L216.6 360.9L218.0 362.1L220.1 359.8L222.2 357.1L223.6 358.6L225.3 360.9L227.1 361.3L228.8 362.1L230.3 359.8L232.3 360.3L234.1 357.4L235.5 354.5L237.0 355.1L238.1 349.9L239.3 344.7L241.0 340.6L242.4 335.9L243.4 333.0L245.1 332.2L246.3 329.5L248.0 326.0L249.4 326.4L250.6 328.0L252.1 326.6L253.3 325.5L254.4 331.3L256.2 334.8L257.9 337.7L259.7 340.6L261.4 341.2L262.9 340.8L264.3 337.1L265.7 334.5L267.2 332.4L269.0 329.5L270.1 327.2L271.5 329.0L272.7 326.6L273.8 324.5L275.0 327.2L276.2 328.4L277.7 328.0L279.2 333.0L280.6 335.3L282.3 336.5L284.1 340.6L285.8 340.6L287.6 341.7L288.5 344.7L289.9 342.3L291.6 342.9L293.1 346.4L294.5 345.0L296.9 345.0L298.6 348.1L300.0 348.3L301.2 347.9L302.3 348.0L303.5 348.3L305.2 344.2L307.6 342.2L309.3 341.3L310.5 340.1L311.6 341.9L313.0 338.7L315.1 336.6L317.4 335.7L319.2 335.2L321.2 336.6L323.3 336.0L325.3 336.9L327.3 336.4L329.1 341.3L330.8 344.8L332.3 343.8L333.7 343.6L335.5 347.7L337.2 346.5L339.0 350.0L340.7 349.4L342.8 354.1L344.2 355.0L345.9 353.5L347.7 358.1L349.4 354.7L351.2 348.3L352.3 356.4L353.7 364.5L355.2 368.0L357.0 372.0L358.7 370.9L360.5 369.2L362.2 370.9L364.0 362.8L365.7 364.5L367.2 368.6L369.2 365.7L370.9 364.5L372.7 358.1L374.4 356.4L376.2 352.3L377.7 348.8L379.3 351.7L381.2 349.4L382.6 355.2L383.7 361.0L385.8 365.8L387.8 362.2L390.0 359.0L392.2 360.8L394.5 359.4L396.9 356.7L399.2 362.6L401.5 365.5L402.7 365.9L403.8 365.1L405.0 366.0L407.9 363.7L410.8 364.6L413.0 362.6L415.5 363.7L416.6 367.2L418.4 358.5L420.7 360.2L423.0 362.6L425.0 363.7L427.3 366.3L429.7 368.0L432.0 369.5L434.1 366.9L436.0 370.3L438.0 359.9L439.5 361.0L441.3 359.3L443.6 357.0L445.7 356.7L447.7 350.0L449.4 351.2L451.7 344.0L453.8 347.1L455.2 343.0L456.6 336.0L458.1 344.8L459.9 337.2L461.3 323.3L462.4 320.9L464.0 313.7L465.5 312.6L467.1 314.5L469.2 319.8L470.9 315.1L472.9 326.7L474.4 321.5L475.8 318.6L477.1 323.3L478.5 315.1L479.7 311.6L481.0 315.7L482.9 311.0L484.3 306.7L485.5 309.3L486.6 314.0L488.4 316.3L490.1 323.3L491.3 323.8L493.0 319.2L494.8 314.5L496.5 319.8L498.5 325.0L500.6 326.2L502.7 326.2L504.1 322.7L505.8 328.5L507.6 319.8L509.7 320.9L511.6 322.7L513.4 323.8L515.1 325.3L516.9 323.8L518.6 323.3L520.3 324.5L521.9 325.4L523.9 329.9L525.4 323.5L527.1 332.5L528.3 333.8L530.3 326.7L531.8 331.2L533.5 328.0L535.2 328.6L536.7 331.8L538.6 326.1L540.5 320.9L542.9 314.5L544.4 306.8L545.4 297.8L547.0 295.9L548.3 290.1L549.3 279.2L550.6 277.3L551.9 279.8L553.7 274.4L554.9 276.6L556.6 280.5L558.3 277.3L560.5 275.3L562.1 270.2L563.9 264.4L565.2 268.3L567.3 270.2L568.8 276.0L570.3 286.3L572.0 291.4L573.3 305.5L575.0 308.7L577.2 316.4L578.8 313.2L580.3 315.5L582.2 311.0L584.0 309.6L585.8 298.8L587.2 298.0L588.9 302.4L590.1 293.0L591.3 286.5L592.7 293.0L593.9 300.2L595.6 290.8L597.0 299.5L598.5 308.1L600.2 307.4L601.6 323.3L603.8 329.1L606.0 343.5L608.1 346.4L610.6 350.7L612.5 347.1L614.6 349.3L616.8 357.9L619.0 361.5L620.4 364.4L622.1 362.3L624.0 362.3L625.5 366.6L626.9 365.9" fill="none" stroke="#ec1c24" stroke-width="1.9" stroke-linejoin="round" stroke-linecap="round"/>
<path d="M142.8 531.1L143.9 531.3L145.0 530.2L146.0 530.7L147.1 531.1L148.2 531.8L149.2 531.1L150.3 530.2L151.4 531.2L152.5 530.4L153.6 531.7L154.6 530.9L155.7 531.9L156.8 531.0L157.8 530.5L158.9 530.3L160.0 531.0L161.1 530.8L162.1 531.2L163.2 531.6L164.3 531.2L165.4 530.7L166.4 531.3L167.5 530.3L168.6 531.3L169.7 530.7L170.7 531.8L171.8 531.6L172.9 531.2L174.0 530.6L175.0 531.3L176.1 531.3L177.2 530.8L178.3 530.8L179.3 531.7L180.4 531.1L181.5 530.9L182.5 531.4L183.6 531.9L184.6 530.5L185.7 532.2L186.7 531.9L187.8 531.1L188.8 531.0L189.9 530.9L190.9 532.0L192.0 531.6L193.1 530.4L194.2 532.2L195.3 531.9L196.4 531.5L197.5 531.6L198.6 531.8L199.7 531.9L200.8 532.5L201.9 531.7L203.0 532.2L204.1 532.8L205.1 532.8L206.2 532.2L207.2 532.6L208.3 532.1L209.4 532.4L210.4 532.7L211.5 533.4L212.5 532.4L213.6 532.5L214.7 532.4L215.7 532.4L216.8 532.3L217.9 531.8L218.9 533.2L220.0 532.2L221.1 531.7L222.3 531.6L223.4 531.4L224.6 532.0L225.7 531.5L226.9 532.6L228.1 532.3L229.4 530.9L230.6 530.0L231.6 529.8L232.6 529.2L233.6 528.3L234.6 528.8L235.6 528.0L236.8 526.3L238.1 525.7L239.3 523.0L240.6 521.0L241.8 518.8L243.1 517.5L244.4 515.5L245.6 514.4L246.9 514.2L248.1 514.1L249.4 513.6L250.6 513.0L251.6 512.2L252.6 511.7L253.6 512.4L254.6 511.8L255.6 511.7L256.9 511.1L258.2 510.3L259.4 507.6L260.5 505.0L261.4 501.3L262.4 497.5L263.3 495.0L264.4 491.9L265.6 488.6L266.7 485.5L267.9 482.7L269.0 479.0L270.0 477.4L271.0 474.6L272.0 472.8L273.3 471.7L274.6 470.1L275.8 468.8L277.1 470.0L278.3 469.5L279.5 469.3L281.0 472.0L282.2 476.5L283.5 480.0L284.6 484.5L285.8 488.1L287.0 491.1L288.1 495.1L289.3 498.8L290.5 502.7L291.6 505.0L292.8 505.6L294.0 505.0L294.9 506.1L295.7 507.7L296.7 507.8L297.6 507.5L298.6 507.9L299.8 508.3L301.0 508.3L302.1 507.9L303.3 508.5L304.4 508.3L305.6 508.4L306.7 510.0L307.9 511.0L309.1 511.2L310.3 510.8L311.4 510.6L312.6 510.8L313.8 512.0L314.9 513.7L316.0 513.2L317.2 513.7L318.4 513.6L319.5 512.8L320.7 513.8L321.8 513.1L323.0 514.9L324.1 515.3L325.3 515.8L326.5 515.8L327.6 515.4L328.8 515.5L330.0 515.2L331.2 514.7L332.4 516.2L333.5 516.0L334.7 516.8L335.8 517.8L337.0 517.8L338.2 518.7L339.3 517.8L340.5 519.0L341.5 519.7L342.5 518.7L343.5 518.2L344.5 518.1L345.7 519.5L346.9 520.1L347.9 521.6L348.8 520.5L349.8 521.3L351.0 520.1L352.1 519.5L353.0 518.6L353.8 517.4L354.8 516.6L355.7 517.1L356.7 517.8L357.9 519.0L359.1 520.1L360.2 522.1L361.4 523.3L362.5 522.9L363.7 521.9L364.9 521.6L366.0 520.5L367.2 520.6L368.4 519.5L369.5 517.5L370.7 516.0L371.9 514.6L373.0 513.5L374.1 512.6L375.3 512.0L376.5 512.4L377.7 513.1L378.7 512.9L379.7 512.1L380.7 510.9L382.0 508.2L383.3 507.6L384.3 505.8L385.3 503.6L386.3 502.3L387.3 502.0L388.3 501.9L389.3 502.9L390.3 504.6L391.3 504.9L392.5 507.4L393.7 508.6L394.7 509.7L395.6 509.9L396.6 510.0L397.7 511.2L398.9 510.0L400.0 510.9L401.1 511.9L402.2 511.7L403.3 512.6L404.4 512.8L405.5 512.8L406.6 514.2L407.7 515.9L408.9 516.9L410.0 516.9L411.0 517.9L412.0 517.6L413.0 518.5L414.0 518.9L415.0 518.4L415.9 518.8L416.9 519.7L417.9 518.9L418.9 519.4L419.9 518.6L420.9 518.3L421.9 517.6L423.0 517.3L424.2 517.3L425.3 516.9L426.4 517.3L427.5 518.0L428.6 518.2L429.6 517.2L430.6 517.4L431.6 516.1L432.6 515.6L433.6 515.2L434.6 514.5L435.6 514.9L436.6 513.6L437.6 513.6L438.6 512.2L439.6 511.6L440.6 511.6L441.6 511.2L442.6 510.2L443.6 509.2L444.6 508.6L445.7 508.0L446.8 508.1L447.9 506.5L449.2 506.5L450.6 506.5L451.9 507.8L453.2 507.6L454.2 505.4L455.2 503.6L456.3 502.2L457.5 501.1L458.6 499.6L459.9 496.9L461.2 494.3L462.2 489.4L463.2 485.0L464.2 478.5L465.2 473.0L466.2 468.1L467.2 463.6L468.2 459.5L469.2 455.7L470.5 452.7L471.5 455.2L472.5 457.6L473.9 461.8L475.2 465.0L476.4 468.2L477.7 470.8L478.6 474.0L479.5 476.0L480.4 478.8L481.2 481.3L482.1 483.5L483.0 485.3L484.1 491.2L485.0 492.7L485.9 493.5L486.8 494.5L487.6 494.7L488.8 498.7L489.6 501.0L490.5 502.2L491.4 503.4L492.3 505.1L493.1 506.8L494.0 508.0L495.5 510.3L496.9 509.0L497.8 508.9L498.7 508.6L499.5 507.8L500.4 505.7L501.3 502.9L502.2 499.3L503.0 498.2L503.9 497.6L504.8 496.4L505.7 494.7L506.8 491.7L508.3 487.7L509.5 493.5L510.9 490.0L511.8 489.8L512.6 488.8L513.5 489.1L514.4 489.4L515.2 489.5L516.1 488.3L517.0 486.9L517.9 485.3L518.8 485.6L519.6 487.1L520.5 486.7L521.3 485.9L522.2 487.8L523.1 488.8L524.0 490.5L524.8 492.9L525.7 495.6L526.6 497.6L527.8 497.7L528.9 500.5L529.8 502.7L530.7 502.8L531.5 503.3L532.4 505.1L533.2 504.0L534.1 503.4L535.3 502.6L536.5 502.2L537.6 500.6L538.8 500.5L540.0 499.8L541.1 498.7L542.2 496.4L543.2 495.0L544.8 496.4L546.3 494.7L547.5 493.1L548.7 492.9L549.9 491.4L551.0 492.3L552.1 491.9L553.3 490.8L554.2 489.9L555.1 487.7L556.2 486.4L557.4 485.3L558.8 480.1L559.7 476.6L560.9 476.0L562.0 475.2L563.2 474.9L564.6 477.8L566.1 481.9L567.6 485.9L569.0 484.8L569.9 483.9L570.8 481.3L571.9 476.6L573.1 468.5L574.2 460.0L575.8 448.6L576.7 442.9L577.6 436.8L579.1 434.5L580.0 436.2L580.9 436.8L581.8 437.3L582.7 436.8L583.8 439.5L584.9 441.4L586.2 443.5L587.6 445.0L588.5 446.8L589.5 447.5L590.4 448.6L591.3 451.9L592.2 455.0L593.3 457.9L594.4 461.4L595.5 464.9L596.7 470.5L597.6 472.4L598.6 475.1L599.5 477.7L600.9 482.8L602.2 486.8L603.5 490.3L604.9 494.1L606.2 495.8L607.6 499.5L608.5 501.7L609.5 503.8L610.4 505.0L611.8 508.8L613.1 512.3L614.3 515.2L615.5 517.7L616.4 519.7L617.3 521.4L618.5 516.8L619.4 518.0L620.4 520.0L621.3 520.5L622.5 520.4L623.7 520.7L624.9 521.4L626.1 521.3L627.3 522.4L628.5 523.2L629.7 523.2L631.0 523.5L632.2 524.1L633.4 524.7L634.6 525.5L635.8 525.4L637.0 524.5L638.3 524.9L639.5 524.6L640.9 523.7L642.2 523.5L643.5 524.8L644.9 526.8L646.1 527.8L647.3 529.5L648.5 530.5L649.4 530.6L650.4 533.1L651.3 533.2L652.6 534.1L654.0 535.0L655.2 535.0L656.4 534.8L657.6 535.9L658.8 536.6L660.1 536.5L661.3 536.3L662.5 537.1L663.7 537.1L664.9 537.4L666.2 538.9L667.6 538.6" fill="none" stroke="#ec1c24" stroke-width="1.9" stroke-linejoin="round" stroke-linecap="round"/>
<path d="M255.9 486.7H169.05V460" fill="none" stroke="#1e1e1e" stroke-width="1.6"/>
<path d="M169.05 456.6 L173.3 461.4 L164.8 461.4Z" fill="#1e1e1e"/>
<path d="M278.4 466.6V448" fill="none" stroke="#1e1e1e" stroke-width="1.5"/>
<path d="M278.4 444.6 L282.8 449 L274 449Z" fill="#1e1e1e"/>
<path d="M295 485.9H387.8V438" fill="none" stroke="#1e1e1e" stroke-width="1.6"/>
<path d="M387.8 433.7 L392 439 L383.6 439Z" fill="#1e1e1e"/>
<rect x="73.0" y="41.6" width="713.8" height="499.7" fill="none" stroke="#1c1c1c" stroke-width="1.6"/>
<line x1="73.0" y1="208.4" x2="786.8" y2="208.4" stroke="#1c1c1c" stroke-width="1.6"/>
<line x1="73.0" y1="374.9" x2="786.8" y2="374.9" stroke="#1c1c1c" stroke-width="1.6"/>
<path d="M96.6 41.6v3.6M96.6 541.3v-3.6M96.6 204.8v7.2M96.6 371.3v7.2M120.4 41.6v3.6M120.4 541.3v-3.6M120.4 204.8v7.2M120.4 371.3v7.2M144.2 41.6v7.0M144.2 541.3v-7.0M144.2 201.4v14.0M144.2 367.9v14.0M168.0 41.6v3.6M168.0 541.3v-3.6M168.0 204.8v7.2M168.0 371.3v7.2M191.8 41.6v3.6M191.8 541.3v-3.6M191.8 204.8v7.2M191.8 371.3v7.2M215.6 41.6v3.6M215.6 541.3v-3.6M215.6 204.8v7.2M215.6 371.3v7.2M239.5 41.6v3.6M239.5 541.3v-3.6M239.5 204.8v7.2M239.5 371.3v7.2M263.3 41.6v7.0M263.3 541.3v-7.0M263.3 201.4v14.0M263.3 367.9v14.0M287.1 41.6v3.6M287.1 541.3v-3.6M287.1 204.8v7.2M287.1 371.3v7.2M310.9 41.6v3.6M310.9 541.3v-3.6M310.9 204.8v7.2M310.9 371.3v7.2M334.7 41.6v3.6M334.7 541.3v-3.6M334.7 204.8v7.2M334.7 371.3v7.2M358.5 41.6v3.6M358.5 541.3v-3.6M358.5 204.8v7.2M358.5 371.3v7.2M382.4 41.6v7.0M382.4 541.3v-7.0M382.4 201.4v14.0M382.4 367.9v14.0M406.2 41.6v3.6M406.2 541.3v-3.6M406.2 204.8v7.2M406.2 371.3v7.2M430.0 41.6v3.6M430.0 541.3v-3.6M430.0 204.8v7.2M430.0 371.3v7.2M453.8 41.6v3.6M453.8 541.3v-3.6M453.8 204.8v7.2M453.8 371.3v7.2M477.6 41.6v3.6M477.6 541.3v-3.6M477.6 204.8v7.2M477.6 371.3v7.2M501.4 41.6v7.0M501.4 541.3v-7.0M501.4 201.4v14.0M501.4 367.9v14.0M525.3 41.6v3.6M525.3 541.3v-3.6M525.3 204.8v7.2M525.3 371.3v7.2M549.1 41.6v3.6M549.1 541.3v-3.6M549.1 204.8v7.2M549.1 371.3v7.2M572.9 41.6v3.6M572.9 541.3v-3.6M572.9 204.8v7.2M572.9 371.3v7.2M596.7 41.6v3.6M596.7 541.3v-3.6M596.7 204.8v7.2M596.7 371.3v7.2M620.5 41.6v7.0M620.5 541.3v-7.0M620.5 201.4v14.0M620.5 367.9v14.0M644.3 41.6v3.6M644.3 541.3v-3.6M644.3 204.8v7.2M644.3 371.3v7.2M668.2 41.6v3.6M668.2 541.3v-3.6M668.2 204.8v7.2M668.2 371.3v7.2M692.0 41.6v3.6M692.0 541.3v-3.6M692.0 204.8v7.2M692.0 371.3v7.2M715.8 41.6v3.6M715.8 541.3v-3.6M715.8 204.8v7.2M715.8 371.3v7.2M739.6 41.6v7.0M739.6 541.3v-7.0M739.6 201.4v14.0M739.6 367.9v14.0M763.4 41.6v3.6M763.4 541.3v-3.6M763.4 204.8v7.2M763.4 371.3v7.2M73.0 198.4h6M786.8 198.4h-6M73.0 364.9h6M786.8 364.9h-6M73.0 531.6h6M786.8 531.6h-6" stroke="#1c1c1c" stroke-width="1.5" fill="none"/>
<text x="86.3" y="75">27.5 T</text>
<text x="87.5" y="243.2">28.7 T</text>
<text x="87.5" y="409.2">29.9 T</text>
<text x="140.90" y="561.6" text-anchor="middle">-0.3</text>
<text x="261.20" y="561.6" text-anchor="middle">-0.2</text>
<text x="378.35" y="561.0" text-anchor="middle">-0.1</text>
<text x="502.60" y="562.4" text-anchor="middle">0.0</text>
<text x="620.45" y="561.6" text-anchor="middle">0.1</text>
<text x="739.35" y="561.6" text-anchor="middle">0.2</text>
<text x="368.9" y="587.8">δ</text><text x="378" y="587.8" font-style="italic">f</text><text x="390.1" y="587.8">/</text><text x="396.2" y="587.8">γ</text><text x="404.3" y="596.6" style="font-size:14.3px">N</text><text x="423.6" y="587.8">or</text><text x="451.3" y="587.8" font-style="italic">H</text><text x="466.7" y="592.4" style="font-size:15px">int</text><text x="493.2" y="587.8">(T)</text>
</svg>
</body></html>
